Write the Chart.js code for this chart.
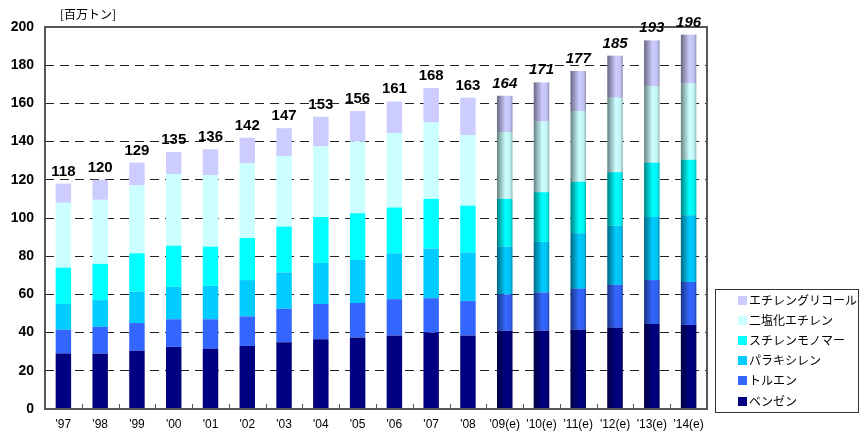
<!DOCTYPE html>
<html>
<head>
<meta charset="utf-8">
<script src="https://cdn.jsdelivr.net/npm/chart.js@4"></script>
<style>
  body { margin: 0; background: #fff; }
</style>
</head>
<body>
<canvas id="chart" width="867" height="436"></canvas>
<script>
// categories ('09 onwards are estimates)
const years = ["'97", "'98", "'99", "'00", "'01", "'02", "'03", "'04", "'05", "'06", "'07", "'08",
  "'09(e)", "'10(e)", "'11(e)", "'12(e)", "'13(e)", "'14(e)"];
const firstEstimate = 12;

// million tonnes
const benzene     = [29, 29, 30.5, 32.5, 31.5, 33, 35, 36.5, 37.5, 38.5, 40, 38.5, 41, 41, 41.5, 42.5, 44.5, 44];
const toluene     = [12.5, 14, 14.5, 14.5, 15.5, 15.5, 17.5, 18.5, 18, 19, 18, 18, 19, 20, 21.5, 22.5, 23, 22.5];
const paraxylene  = [13.5, 14, 16.5, 17, 17.5, 19, 19, 21.5, 22.5, 24, 26, 25.5, 25, 26.5, 29, 31, 33, 35];
const styrene     = [19, 19, 20, 21.5, 20.5, 22, 24, 24, 24.5, 24, 26, 24.5, 25, 26, 27, 28, 28.5, 29];
const edc         = [34, 33.5, 35.5, 37.5, 37.5, 39, 37, 37, 37.5, 39, 40, 37, 35, 37, 37, 39, 40, 40];
const glycol      = [10, 10.5, 12, 11.5, 13.5, 13.5, 14.5, 15.5, 16, 16.5, 18, 19.5, 19, 20.5, 21, 22, 24, 25.5];
const totals      = [118, 120, 129, 135, 136, 142, 147, 153, 156, 161, 168, 163, 164, 171, 177, 185, 193, 196];

const yTicks = [0, 20, 40, 60, 80, 100, 120, 140, 160, 180, 200];

const seriesNames = ['ベンゼン', 'トルエン', 'パラキシレン', 'スチレンモノマー', '二塩化エチレン', 'エチレングリコール'];
const seriesColors = ['#000080', '#3366FF', '#00CCFF', '#00FFFF', '#CCFFFF', '#CCCCFF'];
const seriesData = [benzene, toluene, paraxylene, styrene, edc, glycol];

const numFont = '"Liberation Sans", Arial, sans-serif';
const jpFont = '"Noto Sans CJK JP", sans-serif';

// shading on estimate bars, frame, inner ticks, total labels, legend and unit
const decorations = {
  id: 'decorations',
  afterDatasetsDraw(chart) {
    const ctx = chart.ctx;
    const area = chart.chartArea;
    const xScale = chart.scales.x;

    // cylinder-like shading on the estimates
    ctx.save();
    chart.data.datasets.forEach((ds, d) => {
      chart.getDatasetMeta(d).data.forEach((bar, i) => {
        if (i < firstEstimate) return;
        const { x, y, base, width } = bar.getProps(['x', 'y', 'base', 'width'], true);
        const g = ctx.createLinearGradient(x - width / 2, 0, x + width / 2, 0);
        g.addColorStop(0, 'rgba(0,0,0,0.5)');
        g.addColorStop(0.2, 'rgba(0,0,0,0.3)');
        g.addColorStop(0.55, 'rgba(0,0,0,0)');
        g.addColorStop(0.85, 'rgba(0,0,0,0.05)');
        g.addColorStop(1, 'rgba(0,0,0,0.3)');
        ctx.fillStyle = g;
        ctx.fillRect(x - width / 2, y, width, base - y);
      });
    });
    ctx.restore();

    // frame
    ctx.save();
    ctx.strokeStyle = '#555';
    ctx.lineWidth = 2;
    ctx.strokeRect(area.left, area.top, area.right - area.left, area.bottom - area.top);
    // small ticks between categories, pointing up
    ctx.lineWidth = 1;
    ctx.beginPath();
    for (let i = 1; i < years.length; i++) {
      const xm = Math.round((xScale.getPixelForTick(i - 1) + xScale.getPixelForTick(i)) / 2) + 0.5;
      ctx.moveTo(xm, area.bottom);
      ctx.lineTo(xm, area.bottom - 5);
    }
    ctx.stroke();
    ctx.restore();

    // totals above the bars
    const topMeta = chart.getDatasetMeta(chart.data.datasets.length - 1);
    ctx.save();
    ctx.fillStyle = '#000';
    ctx.textAlign = 'center';
    ctx.textBaseline = 'alphabetic';
    topMeta.data.forEach((bar, i) => {
      ctx.font = (i >= firstEstimate ? 'italic ' : '') + 'bold 15px ' + numFont;
      ctx.fillText(String(totals[i]), bar.x, bar.y - 8);
    });
    ctx.restore();
  },
  afterDraw(chart) {
    const ctx = chart.ctx;
    ctx.save();
    // unit
    ctx.fillStyle = '#000';
    ctx.font = '12px ' + jpFont;
    ctx.textBaseline = 'middle';
    ctx.fillText('[百万トン]', 60, 14);

    // legend box
    const bx = 715, by = 289, bw = 143, bh = 123;
    ctx.fillStyle = '#fff';
    ctx.fillRect(bx, by, bw, bh);
    ctx.strokeStyle = '#333';
    ctx.lineWidth = 1;
    ctx.strokeRect(bx + 0.5, by + 0.5, bw, bh);
    for (let k = 0; k < seriesNames.length; k++) {
      const idx = seriesNames.length - 1 - k;
      const cy = by + 11 + k * 20.2;
      ctx.fillStyle = seriesColors[idx];
      ctx.fillRect(738, Math.round(cy - 4.5), 9, 9);
      ctx.fillStyle = '#000';
      ctx.font = '12px ' + jpFont;
      ctx.fillText(seriesNames[idx], 749, cy);
    }
    ctx.restore();
  }
};

const ctx = document.getElementById('chart').getContext('2d');
new Chart(ctx, {
  type: 'bar',
  data: {
    labels: years,
    datasets: seriesData.map((values, d) => ({
      label: seriesNames[d],
      data: values,
      backgroundColor: seriesColors[d],
      borderWidth: 0,
      categoryPercentage: 1,
      barPercentage: 0.42
    }))
  },
  options: {
    responsive: false,
    animation: false,
    layout: { padding: { top: 27, right: 160, left: 0, bottom: 0 } },
    plugins: {
      legend: { display: false },
      tooltip: { enabled: false }
    },
    scales: {
      x: {
        stacked: true,
        grid: { display: false, drawTicks: false },
        border: { display: false },
        ticks: {
          color: '#000',
          padding: 8,
          maxRotation: 0,
          autoSkip: false,
          font: { family: numFont, size: 12 }
        },
        afterFit(scale) { scale.height = 27; }
      },
      y: {
        stacked: true,
        min: 0,
        max: 200,
        afterBuildTicks(scale) { scale.ticks = yTicks.map(v => ({ value: v })); },
        grid: {
          drawTicks: false,
          color: c => (c.tick && (c.tick.value === 0 || c.tick.value === 200)) ? 'rgba(0,0,0,0)' : '#222',
          lineWidth: 1
        },
        border: { display: false, dash: [9, 6] },
        ticks: {
          color: '#000',
          padding: 11,
          font: { family: numFont, size: 14, weight: 'bold' }
        },
        afterFit(scale) { scale.width = 45; }
      }
    }
  },
  plugins: [decorations]
});
</script>
</body>
</html>
